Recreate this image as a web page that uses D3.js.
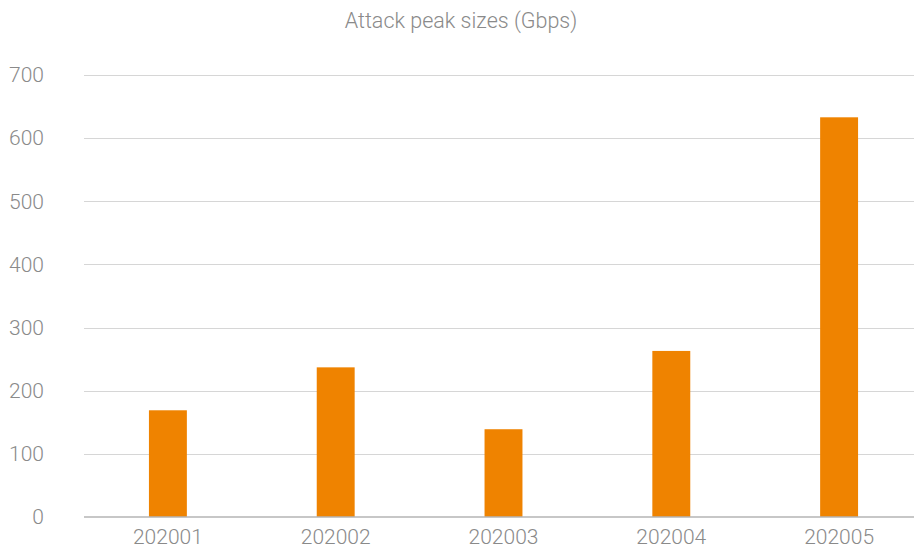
<!DOCTYPE html>
<html>
<head>
<meta charset="utf-8">
<script src="https://cdn.jsdelivr.net/npm/d3@7"></script>
<style>
  html, body { margin: 0; padding: 0; background: #fff; }
  svg { display: block; }
  text { font-family: Roboto, "Noto Sans", sans-serif; font-weight: 300; fill: #8a8a8a; }
</style>
</head>
<body>
<svg id="chart" width="914" height="549"></svg>
<script>
const chartTitle = "Attack peak sizes (Gbps)";
const months = ["202001", "202002", "202003", "202004", "202005"];
const peakGbps = [169, 237, 139, 263, 633];
const yTicks = [0, 100, 200, 300, 400, 500, 600, 700];

const W = 914, H = 549;
const margin = { top: 75, right: -9, bottom: 32, left: 84 };
const svg = d3.select("#chart");

const x = d3.scaleBand()
  .domain(months)
  .range([margin.left, W - margin.right])
  .padding(0);

const y = d3.scaleLinear()
  .domain([0, 700])
  .range([H - margin.bottom, margin.top]);

const barW = x.step() * 0.226;

// title
svg.append("text")
  .attr("x", 461)
  .attr("y", 28)
  .attr("text-anchor", "middle")
  .style("font-size", "21.5px")
  .text(chartTitle);

// horizontal gridlines
svg.append("g")
  .selectAll("line")
  .data(yTicks.filter(d => d > 0))
  .join("line")
  .attr("x1", margin.left)
  .attr("x2", W)
  .attr("y1", d => Math.round(y(d)) + 0.5)
  .attr("y2", d => Math.round(y(d)) + 0.5)
  .attr("stroke", "#d6d6d6")
  .attr("stroke-width", 1);

// y axis labels
const yAxis = d3.axisLeft(y).tickValues(yTicks).tickSize(0).tickPadding(0);
svg.append("g")
  .attr("transform", `translate(${margin.left - 40},0)`)
  .call(yAxis)
  .call(g => g.select(".domain").remove())
  .selectAll("text")
  .attr("text-anchor", "end")
  .style("font-size", "21px")
  .style("font-family", "Roboto, sans-serif")
  .attr("fill", "#8a8a8a");

// bars
svg.append("g")
  .selectAll("rect")
  .data(months.map((m, i) => ({ m, v: peakGbps[i] })))
  .join("rect")
  .attr("x", d => x(d.m) + x.step() / 2 - barW / 2)
  .attr("width", barW)
  .attr("y", d => y(d.v))
  .attr("height", d => y(0) - y(d.v))
  .attr("fill", "#ef8300");

// baseline
svg.append("line")
  .attr("x1", margin.left)
  .attr("x2", W)
  .attr("y1", y(0))
  .attr("y2", y(0))
  .attr("stroke", "#b5b5b5")
  .attr("stroke-width", 1.5);

// x axis labels
const xAxis = d3.axisBottom(x).tickSize(0).tickPadding(0);
svg.append("g")
  .attr("transform", `translate(0,${y(0)})`)
  .call(xAxis)
  .call(g => g.select(".domain").remove())
  .selectAll("text")
  .attr("dy", null)
  .attr("y", 27)
  .style("font-size", "21px")
  .style("font-family", "Roboto, sans-serif")
  .attr("fill", "#8a8a8a");
</script>
</body>
</html>
